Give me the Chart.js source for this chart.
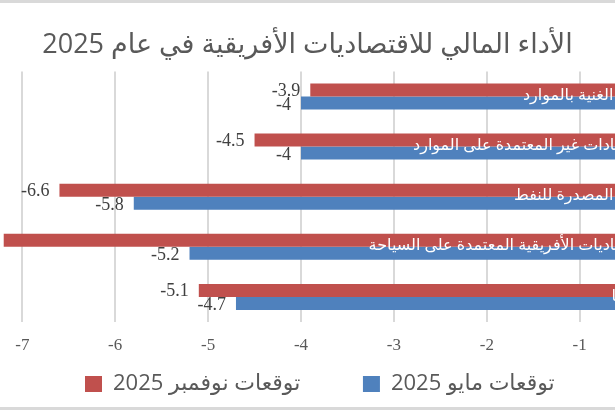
<!DOCTYPE html>
<html>
<head>
<meta charset="utf-8">
<script src="https://cdn.jsdelivr.net/npm/chart.js@4"></script>
<style>
  html, body { margin: 0; padding: 0; background: #fff; }
  #wrap {
    position: relative;
    width: 615px;
    height: 410px;
    box-sizing: border-box;
    border-top: 3px solid #d9d9d9;
    border-bottom: 3px solid #d9d9d9;
    overflow: hidden;
  }
</style>
</head>
<body>
<div id="wrap"><canvas id="chart" width="615" height="404"></canvas></div>
<script>
// data
const categories = [
  'الدول الغنية بالموارد',
  'الاقتصادات غير المعتمدة على الموارد',
  'الدول المصدرة للنفط',
  'الاقتصاديات الأفريقية المعتمدة على السياحة',
  'أفريقيا'
];
const novemberLabel = 'توقعات نوفمبر 2025';
const mayLabel = 'توقعات مايو 2025';
const novemberValues = [-3.9, -4.5, -6.6, -7.2, -5.1];
const mayValues = [-4, -4, -5.8, -5.2, -4.7];
const chartTitle = 'الأداء المالي للاقتصاديات الأفريقية في عام 2025';

const redColor = '#c0504d';
const blueColor = '#4f81bd';
const textColor = '#595959';

// wrap arabic strings so the canvas lays them out right-to-left
const rtl = (s) => '\u202B' + s + '\u202C';

// value labels at the end of each bar + category names next to the zero line
const barLabels = {
  id: 'barLabels',
  afterDatasetsDraw(chart) {
    const ctx = chart.ctx;
    ctx.save();
    ctx.direction = 'ltr';
    ctx.font = '18px "Liberation Serif", serif';
    ctx.fillStyle = '#404040';
    ctx.textAlign = 'right';
    ctx.textBaseline = 'middle';
    chart.data.datasets.forEach((ds, i) => {
      chart.getDatasetMeta(i).data.forEach((bar, j) => {
        ctx.fillText(String(ds.data[j]), bar.x - 10, bar.y + (i === 0 ? 1 : 2));
      });
    });

    const xScale = chart.scales.x;
    const yScale = chart.scales.y;
    const labelRight = xScale.getPixelForValue(0) - 18;
    ctx.font = '16px "Open Sans", "DejaVu Sans", sans-serif';
    ctx.fillStyle = '#ffffff';
    ctx.direction = 'rtl';
    ctx.textAlign = 'right';
    categories.forEach((name, j) => {
      ctx.fillText(name, labelRight, yScale.getPixelForValue(j) - 1);
    });
    ctx.restore();
  }
};

new Chart(document.getElementById('chart'), {
  type: 'bar',
  data: {
    labels: categories,
    datasets: [{
      label: novemberLabel,
      data: novemberValues,
      backgroundColor: redColor,
    }, {
      label: mayLabel,
      data: mayValues,
      backgroundColor: blueColor,
    }]
  },
  options: {
    indexAxis: 'y',
    responsive: false,
    animation: false,
    barPercentage: 1,
    categoryPercentage: 0.52,
    layout: { padding: { bottom: 2 } },
    scales: {
      x: {
        min: -7.24,
        max: -0.62,
        grid: { color: '#d9d9d9', lineWidth: 2, drawTicks: false },
        border: { display: false },
        afterFit: (scale) => { scale.height = 47; },
        ticks: {
          stepSize: 1,
          includeBounds: false,
          padding: 13,
          color: textColor,
          font: { family: '"Liberation Serif", serif', size: 17 }
        }
      },
      y: { display: false }
    },
    plugins: {
      title: {
        display: true,
        text: rtl(chartTitle),
        color: textColor,
        font: { family: '"Open Sans", "DejaVu Sans", sans-serif', size: 27, weight: 'normal' },
        padding: { top: 26, bottom: 10 }
      },
      legend: {
        position: 'bottom',
        onClick: null,
        labels: {
          color: textColor,
          boxWidth: 17,
          boxHeight: 16,
          padding: 4,
          font: { family: '"Open Sans", "DejaVu Sans", sans-serif', size: 22 },
          generateLabels(chart) {
            const items = Chart.defaults.plugins.legend.labels.generateLabels(chart);
            items.forEach((item) => { item.text = rtl(item.text); });
            // wider gap between the two entries
            items[0].text += '\u2003\u2003\u2002\u2009';
            items[1].text += '\u2009\u2009';
            // empty slot on the left so the row sits a little right of centre
            const spacer = { text: '', fillStyle: 'rgba(0,0,0,0)', strokeStyle: 'rgba(0,0,0,0)', lineWidth: 0, hidden: false };
            return [spacer].concat(items);
          }
        }
      },
      tooltip: { enabled: false }
    }
  },
  plugins: [barLabels]
});
</script>
</body>
</html>
